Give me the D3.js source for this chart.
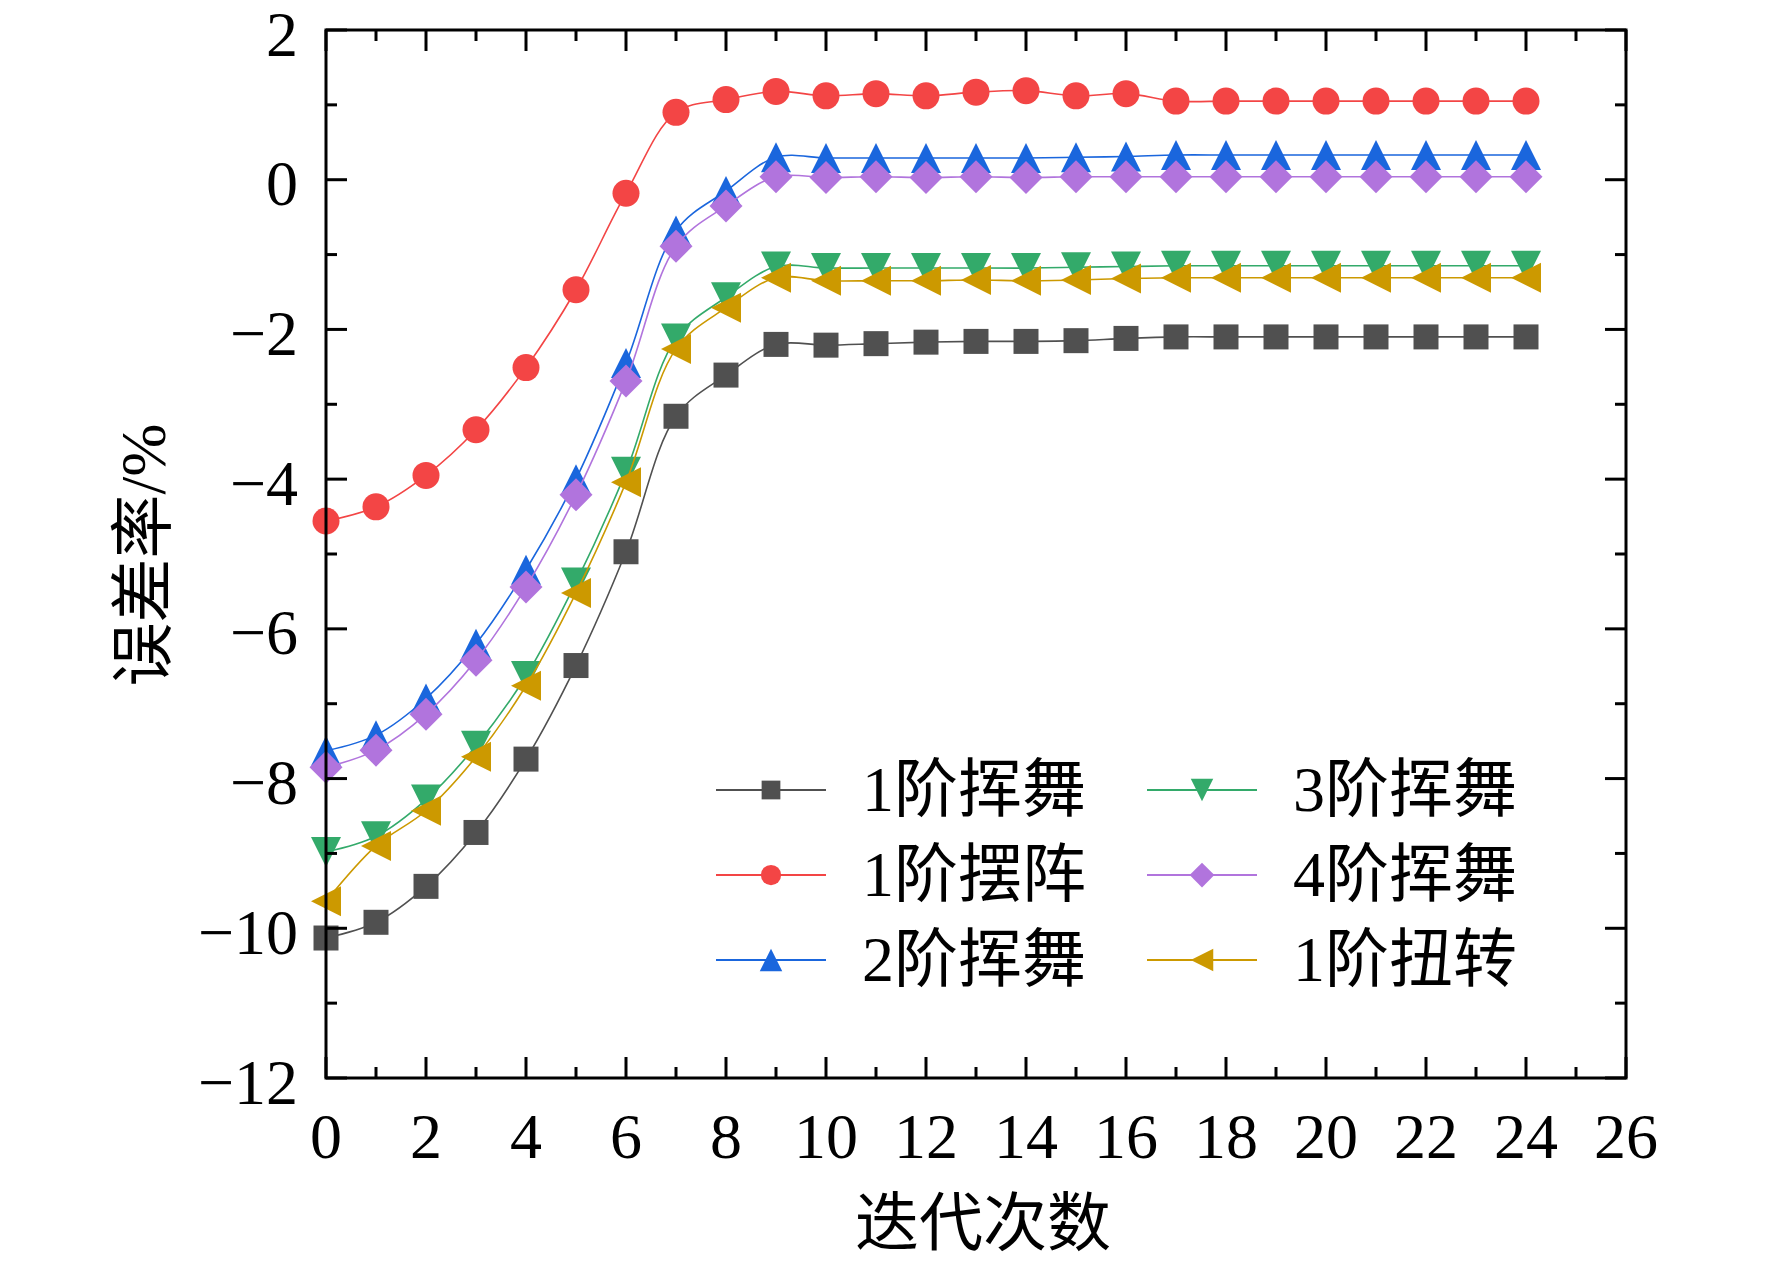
<!DOCTYPE html>
<html>
<head>
<meta charset="utf-8">
<script src="https://cdn.jsdelivr.net/npm/d3@7"></script>
<style>
  body { margin: 0; background: #fff; }
</style>
</head>
<body>
<div id="chart"></div>
<script>
// iterations 0..24
const iterations = d3.range(0, 25);

// error rate (%) per series
const mode1Wave  = [-10.13, -9.92, -9.44, -8.72, -7.74, -6.49, -4.97, -3.16, -2.61, -2.20, -2.21, -2.19, -2.17, -2.16, -2.16, -2.15, -2.12, -2.10, -2.10, -2.10, -2.10, -2.10, -2.10, -2.10, -2.10];
const mode1Sway  = [-4.56, -4.37, -3.95, -3.34, -2.51, -1.47, -0.18, 0.90, 1.07, 1.18, 1.12, 1.15, 1.12, 1.17, 1.19, 1.12, 1.15, 1.05, 1.05, 1.05, 1.05, 1.05, 1.05, 1.05, 1.05];
const mode2Wave  = [-7.63, -7.42, -6.93, -6.20, -5.21, -4.00, -2.45, -0.68, -0.15, 0.30, 0.29, 0.29, 0.29, 0.29, 0.29, 0.30, 0.31, 0.33, 0.33, 0.33, 0.33, 0.33, 0.33, 0.33, 0.33];
const mode3Wave  = [-8.98, -8.77, -8.28, -7.56, -6.63, -5.38, -3.90, -2.12, -1.57, -1.16, -1.18, -1.18, -1.18, -1.18, -1.18, -1.17, -1.16, -1.15, -1.15, -1.15, -1.15, -1.15, -1.15, -1.15, -1.15];
const mode4Wave  = [-7.85, -7.62, -7.14, -6.42, -5.44, -4.21, -2.69, -0.89, -0.35, 0.04, 0.03, 0.04, 0.03, 0.04, 0.03, 0.04, 0.04, 0.04, 0.04, 0.04, 0.04, 0.04, 0.04, 0.04, 0.04];
const mode1Twist = [-9.64, -8.90, -8.43, -7.71, -6.76, -5.52, -4.04, -2.26, -1.71, -1.31, -1.35, -1.35, -1.35, -1.34, -1.35, -1.34, -1.32, -1.31, -1.31, -1.31, -1.31, -1.31, -1.31, -1.31, -1.31];

const seriesNames = ["1阶挥舞", "1阶摆阵", "2阶挥舞", "3阶挥舞", "4阶挥舞", "1阶扭转"];
const seriesValues = [mode1Wave, mode1Sway, mode2Wave, mode3Wave, mode4Wave, mode1Twist];

const xTicks = d3.range(0, 27, 2);
const yTicks = d3.range(-12, 3, 2);

const width = 1772, height = 1268;
const margin = { left: 326, right: 146, top: 30, bottom: 190 };

const svg = d3.select("#chart").append("svg")
    .attr("width", width)
    .attr("height", height)
    .attr("viewBox", `0 0 ${width} ${height}`);

const x = d3.scaleLinear().domain([0, 26]).range([margin.left, width - margin.right]);
const y = d3.scaleLinear().domain([-12, 2]).range([height - margin.bottom, margin.top]);

const SERIF = "'Liberation Serif', 'Times New Roman', 'Noto Sans CJK SC', serif";

// marker shapes, size = nominal width in px
const shapes = {
    square: s => `M${-s / 2},${-s / 2}h${s}v${s}h${-s}Z`,
    circle: s => `M${s / 2},0A${s / 2},${s / 2},0,1,1,${-s / 2},0A${s / 2},${s / 2},0,1,1,${s / 2},0Z`,
    up: s => `M0,${-s / 2}L${s / 2},${s / 2}L${-s / 2},${s / 2}Z`,
    down: s => `M0,${s / 2}L${s / 2},${-s / 2}L${-s / 2},${-s / 2}Z`,
    diamond: s => `M0,${-s / 2}L${s / 2},0L0,${s / 2}L${-s / 2},0Z`,
    left: s => `M${-s / 2},0L${s / 2},${-s / 2}L${s / 2},${s / 2}Z`
};

const styles = [
    { color: "#505050", shape: "square", size: 25 },
    { color: "#F34545", shape: "circle", size: 27 },
    { color: "#1A66DD", shape: "up", size: 30 },
    { color: "#33AA6A", shape: "down", size: 30 },
    { color: "#B174DD", shape: "diamond", size: 33 },
    { color: "#CC9900", shape: "left", size: 30 }
];

const line = d3.line()
    .x(d => x(d.x))
    .y(d => y(d.y))
    .curve(d3.curveCatmullRom.alpha(0.5));

seriesValues.forEach((vals, i) => {
    const st = styles[i];
    const data = iterations.map((it, k) => ({ x: it, y: vals[k] }));
    const g = svg.append("g");
    g.append("path")
        .datum(data)
        .attr("fill", "none")
        .attr("stroke", st.color)
        .attr("stroke-width", 1.6)
        .attr("d", line);
    g.selectAll("path.m")
        .data(data)
        .join("path")
        .attr("class", "m")
        .attr("transform", d => `translate(${x(d.x)},${y(d.y)})`)
        .attr("d", shapes[st.shape](st.size))
        .attr("fill", st.color);
});

// frame with inward ticks on all four sides
const x0 = x(0), x1 = x(26), y0 = y(-12), y1 = y(2);
const tickG = svg.append("g").attr("stroke", "black").attr("stroke-width", 3);

d3.range(0, 27).forEach(v => {
    const len = v % 2 === 0 ? 21 : 11;
    tickG.append("line").attr("x1", x(v)).attr("x2", x(v)).attr("y1", y0).attr("y2", y0 - len);
    tickG.append("line").attr("x1", x(v)).attr("x2", x(v)).attr("y1", y1).attr("y2", y1 + len);
});
d3.range(-12, 3).forEach(v => {
    const len = v % 2 === 0 ? 21 : 11;
    tickG.append("line").attr("x1", x0).attr("x2", x0 + len).attr("y1", y(v)).attr("y2", y(v));
    tickG.append("line").attr("x1", x1).attr("x2", x1 - len).attr("y1", y(v)).attr("y2", y(v));
});

svg.append("rect")
    .attr("x", x0).attr("y", y1)
    .attr("width", x1 - x0).attr("height", y0 - y1)
    .attr("fill", "none")
    .attr("stroke", "black")
    .attr("stroke-width", 3);

// tick labels
const fmt = d3.format("d");
svg.append("g").selectAll("text")
    .data(xTicks)
    .join("text")
    .attr("x", d => x(d))
    .attr("y", y0 + 80)
    .attr("text-anchor", "middle")
    .attr("font-family", SERIF)
    .attr("font-size", 64)
    .text(d => fmt(d));

svg.append("g").selectAll("text")
    .data(yTicks)
    .join("text")
    .attr("x", x0 - 28)
    .attr("y", d => y(d))
    .attr("dy", "0.4em")
    .attr("text-anchor", "end")
    .attr("font-family", SERIF)
    .attr("font-size", 64)
    .text(d => fmt(d));

// axis titles
svg.append("text")
    .attr("x", 983)
    .attr("y", 1245)
    .attr("text-anchor", "middle")
    .attr("font-family", SERIF)
    .attr("font-size", 64)
    .text("迭代次数");

svg.append("text")
    .attr("transform", `translate(165, 555) rotate(-90)`)
    .attr("text-anchor", "middle")
    .attr("font-family", SERIF)
    .attr("font-size", 64)
    .text("误差率/%");

// legend, two columns of three
const legendCols = [716, 1147];
const legendRows = [790, 875, 960];
seriesNames.forEach((name, i) => {
    const st = styles[i];
    const lx = legendCols[Math.floor(i / 3)];
    const ly = legendRows[i % 3];
    const g = svg.append("g").attr("transform", `translate(${lx},${ly})`);
    g.append("line")
        .attr("x1", 0).attr("x2", 110)
        .attr("y1", 0).attr("y2", 0)
        .attr("stroke", st.color)
        .attr("stroke-width", 2.2);
    g.append("path")
        .attr("transform", "translate(55,0)")
        .attr("d", shapes[st.shape](st.size * 0.75))
        .attr("fill", st.color);
    g.append("text")
        .attr("x", 146)
        .attr("y", 21)
        .attr("font-family", SERIF)
        .attr("font-size", 64)
        .text(name);
});
</script>
</body>
</html>
